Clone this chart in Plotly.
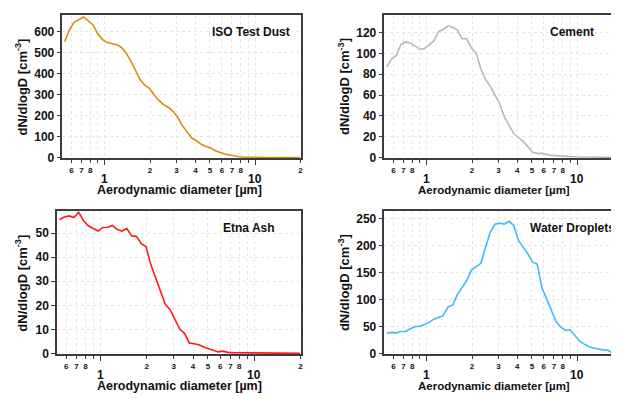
import math
import plotly.graph_objects as go

# ---------------- data ----------------
diameter = [0.542, 0.583, 0.626, 0.673, 0.723, 0.777, 0.835, 0.898, 0.965, 1.037,
            1.114, 1.197, 1.286, 1.382, 1.486, 1.596, 1.715, 1.843, 1.981, 2.129,
            2.288, 2.458, 2.642, 2.839, 3.051, 3.278, 3.523, 3.786, 4.068, 4.371,
            4.698, 5.048, 5.425, 5.829, 6.264, 6.732, 7.234, 7.774, 8.354, 8.977,
            9.647, 10.37, 11.14, 11.97, 12.86, 13.82, 14.86, 15.96, 17.15, 18.43, 19.81]

iso_test_dust = [552, 611, 644, 656, 670, 652, 632, 590, 562, 549,
                 543, 538, 526, 500, 462, 420, 372, 345, 330, 298,
                 272, 252, 240, 220, 192, 152, 122, 93, 80, 63,
                 53, 45, 32, 24, 17, 12, 7, 4, 2.5, 1.5,
                 1, 0.7, 0.5, 0.4, 0.3, 0.3, 0.2, 0.2, 0.2, 0.1, 0.1]

cement = [87, 94.5, 98, 108.5, 111, 110, 107, 104, 104.6, 108,
          112, 121, 123, 126.3, 125.2, 122.5, 114, 114, 105, 100.5,
          85, 75, 68.5, 60, 52, 39, 30.5, 23, 19, 15.5,
          10.5, 5, 4, 4, 3, 2, 1.8, 1.3, 1.2, 0.9,
          0.7, 0.5, 0.4, 0.3, 0.3, 0.2, 0.2, 0.2, 0.1, 0.1, 0.1]

etna_ash = [55.6, 56.6, 57.1, 56.4, 58.6, 55.2, 53.0, 52.0, 50.8, 52.3,
            52.4, 53.1, 51.5, 50.8, 51.8, 48.8, 48.6, 45.6, 44.4, 36.8,
            31.5, 26.5, 20.4, 18.2, 14.0, 10.2, 8.4, 4.4, 4.1, 3.7,
            2.7, 2.0, 1.6, 0.7, 1.0, 0.5, 0.4, 0.4, 0.3, 0.4,
            0.2, 0.2, 0.1, 0.1, 0.1, 0.1, 0.1, 0.1, 0.1, 0.1, 0.1]

water_droplets = [38, 39.5, 38.5, 41, 41.5, 46, 50.4, 50.4, 53.5, 58,
                  64, 67.5, 70.5, 86.8, 89.8, 109.5, 122, 135.3, 155, 161.5,
                  167.5, 197, 225, 240, 242, 240, 245.5, 238, 210, 197.5,
                  185, 170, 165.5, 122, 100.5, 82.5, 59.5, 49, 43, 44.3,
                  34, 23, 17.6, 12.7, 10.5, 8.3, 6.8, 6.7, 0.7, 0.6, 0.5]

panel_names = ["ISO Test Dust", "Cement", "Etna Ash", "Water Droplets"]
y_dticks = [100, 20, 10, 50]

x_tick_vals = [0.6, 0.7, 0.8, 0.9, 1, 2, 3, 4, 5, 6, 7, 8, 9, 10, 20]
x_tick_text = ["6", "7", "8", "", "", "2", "3", "4", "5", "6", "7", "8", "", "", "2"]
major_vals = [1, 10]
major_text = ["1", "10"]

x_title = "Aerodynamic diameter [µm]"
y_title = "dN/dlogD [cm<sup>-3</sup>]"

# ---------------- style / geometry ----------------
# the page body has an 8px margin, so the figure is placed at (8, 8)
OFF = 8
W, H = 619 - OFF, 399 - OFF
def px(x):
    return (x - OFF) / W
def py(y):
    return 1 - (y - OFF) / H

FONT = "Liberation Sans, Arial, sans-serif"
AX = "#3c3c3c"
GRID = "#e6e6e6"
colors = ["#d4900c", "#b9b9b9", "#ff1a1a", "#40b8f6"]

# plot-area boxes in window pixels: (left, right, top, bottom)
boxes = [(62.7, 302, 15, 161), (386.3, 619, 15, 161),
         (57.3, 302, 215, 360.5), (386.3, 619, 215, 360.5)]
x_ranges = [[math.log10(0.523), math.log10(20)], [math.log10(0.523), 1.258],
            [math.log10(0.523), math.log10(20)], [math.log10(0.523), 1.258]]
y_ranges = [[-3.5, 680], [-0.7, 137], [-0.25, 59], [-1.0, 264]]
right_side = [False, True, False, True]
label_pos = [(252, 32.3), (574.7, 32.3), (249.7, 231.7), (575, 231.7)]
xtitle_pos = [(180, 193.3), (496, 193.3), (180, 393.3), (496, 393.3)]
xtitle_size = [12.5, 11.5, 12.5, 11.5]
ytitle_x = [21, 345, 21, 345]
major_y = [181.7, 181.7, 381.7, 381.7]

series = [iso_test_dust, cement, etna_ash, water_droplets]

fig = go.Figure()
annotations = []
layout = dict(width=W, height=H, margin=dict(l=0, r=0, t=0, b=0),
              paper_bgcolor="white", plot_bgcolor="white", showlegend=False,
              font=dict(family=FONT, color="#111111"))

for i in range(4):
    n = "" if i == 0 else str(i + 1)
    left, right, top, bottom = boxes[i]
    fig.add_trace(go.Scatter(x=diameter, y=series[i], mode="lines",
                             line=dict(color=colors[i], width=1.6),
                             xaxis="x" + n, yaxis="y" + n, name=panel_names[i]))
    layout["xaxis" + n] = dict(
        type="log", range=x_ranges[i], domain=[px(left), min(1.0, px(right))],
        anchor="y" + n, showline=True, linecolor=AX, linewidth=1.5, mirror=True,
        ticks="outside", ticklen=3, tickwidth=1, tickcolor=AX,
        tickmode="array", tickvals=x_tick_vals, ticktext=x_tick_text,
        tickfont=dict(size=8, family=FONT, weight="bold", color="#111"),
        showgrid=True, gridcolor=GRID, griddash="dot", gridwidth=1,
        zeroline=False,
        minor=dict(tickmode="array", tickvals=major_vals, ticks="outside",
                   ticklen=5, tickwidth=1, tickcolor=AX, showgrid=False),
    )
    layout["yaxis" + n] = dict(
        range=y_ranges[i], domain=[py(bottom), py(top)], anchor="x" + n,
        showline=True, linecolor=AX, linewidth=1.5, mirror=not right_side[i],
        ticks="outside", ticklen=4, tickwidth=1, tickcolor=AX,
        dtick=y_dticks[i], tick0=0,
        tickfont=dict(size=12, family=FONT, weight="bold", color="#111"),
        showgrid=True, gridcolor=GRID, griddash="dot", gridwidth=1,
        zeroline=False,
    )
    # panel label
    annotations.append(dict(text=panel_names[i], xref="paper", yref="paper",
                            x=px(label_pos[i][0]), y=py(label_pos[i][1]),
                            xanchor="center", yanchor="middle", showarrow=False,
                            font=dict(size=12, family=FONT, weight="bold", color="#111")))
    # major decade labels
    for v, t in zip(major_vals, major_text):
        annotations.append(dict(text=t, xref="x" + n, yref="paper",
                                x=math.log10(v), y=py(major_y[i]),
                                xanchor="center", yanchor="middle", showarrow=False,
                                font=dict(size=12, family=FONT, weight="bold", color="#111")))
    # axis titles
    annotations.append(dict(text=x_title, xref="paper", yref="paper",
                            x=px(xtitle_pos[i][0]), y=py(xtitle_pos[i][1]),
                            xanchor="center", yanchor="middle", showarrow=False,
                            font=dict(size=xtitle_size[i], family=FONT,
                                      weight="bold", color="#111")))
    annotations.append(dict(text=y_title, xref="paper", yref="paper",
                            x=px(ytitle_x[i]), y=py((top + bottom) / 2),
                            xanchor="center", yanchor="middle", textangle=-90,
                            showarrow=False,
                            font=dict(size=13, family=FONT, weight="bold", color="#111")))

layout["annotations"] = annotations
fig.update_layout(**layout)
fig.write_html("out.html")
